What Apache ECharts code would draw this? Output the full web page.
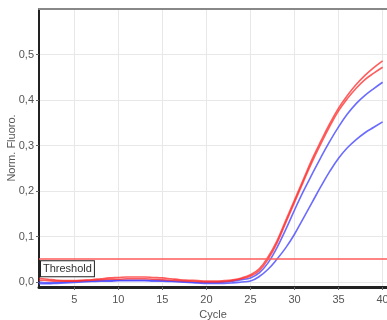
<!DOCTYPE html>
<html><head><meta charset="utf-8">
<script src="https://cdn.jsdelivr.net/npm/echarts@6/dist/echarts.min.js"></script>
<style>html,body{margin:0;padding:0;background:#fff}#c{width:387px;height:320px}</style>
</head><body><div id="c"></div>
<script>
const cycles = [1,2,3,4,5,6,7,8,9,10,11,12,13,14,15,16,17,18,19,20,21,22,23,24,25,26,27,28,29,30,31,32,33,34,35,36,37,38,39,40];
const red1 = [0.008,0.006,0.004,0.003,0.003,0.004,0.005,0.007,0.009,0.010,0.011,0.011,0.011,0.010,0.009,0.007,0.005,0.004,0.003,0.002,0.002,0.003,0.005,0.009,0.016,0.029,0.055,0.090,0.135,0.180,0.225,0.270,0.310,0.348,0.382,0.410,0.434,0.454,0.471,0.486];
const red2 = [0.004,0.003,0.002,0.002,0.002,0.003,0.004,0.005,0.006,0.006,0.007,0.007,0.007,0.006,0.005,0.004,0.003,0.002,0.001,0.000,0.000,0.001,0.003,0.007,0.013,0.025,0.050,0.085,0.130,0.175,0.220,0.264,0.304,0.342,0.376,0.403,0.426,0.445,0.459,0.472];
const blue1 = [0.000,-0.002,-0.001,0.000,0.001,0.002,0.002,0.003,0.003,0.004,0.004,0.004,0.004,0.004,0.003,0.002,0.001,0.000,-0.001,-0.001,-0.001,0.000,0.002,0.005,0.009,0.020,0.042,0.075,0.115,0.158,0.199,0.237,0.274,0.309,0.341,0.369,0.392,0.410,0.425,0.439];
const blue2 = [-0.004,-0.004,-0.003,-0.002,-0.001,0.000,0.001,0.002,0.002,0.003,0.003,0.003,0.003,0.002,0.002,0.001,0.000,-0.001,-0.002,-0.003,-0.003,-0.003,-0.002,0.000,0.002,0.012,0.028,0.050,0.075,0.105,0.140,0.175,0.210,0.243,0.272,0.295,0.313,0.328,0.340,0.352];
const threshold = 0.05;
const xTicks = [5,10,15,20,25,30,35,40];
const yTicks = [0,0.1,0.2,0.3,0.4,0.5];

const pair = arr => cycles.map((c,i)=>[c,arr[i]]);
const chart = echarts.init(document.getElementById('c'));
const font = 'Liberation Sans, Arial, sans-serif';
function mk(name, arr, color){
  return {type:'line', name, data:pair(arr), showSymbol:false, smooth:0.4,
    lineStyle:{color, width:1.6}, itemStyle:{color}, z:3, silent:true};
}
const series = [
  mk('b2', blue2, 'rgba(70,70,255,0.8)'),
  mk('b1', blue1, 'rgba(70,70,255,0.8)'),
  mk('r2', red2, 'rgba(255,40,40,0.75)'),
  mk('r1', red1, 'rgba(255,40,40,0.75)')
];
series.push({type:'line', data:[], silent:true,
  markLine:{silent:true, symbol:'none', animation:false,
    lineStyle:{color:'#ff5c5c', width:1.5, type:'solid'},
    label:{show:true, position:'insideStartBottom', formatter:'Threshold', color:'#333',
      fontFamily:font, fontSize:11, backgroundColor:'#fff', borderColor:'#222', borderWidth:1,
      padding:[2,2,2,2], distance:[2,2]},
    data:[{yAxis:threshold}]}});
chart.setOption({
  animation:false,
  grid:{left:39, top:9, right:0, bottom:33, outerBoundsMode:'none', containLabel:false},
  xAxis:[{type:'value', min:1, max:40.5, position:'bottom',
    name:'Cycle', nameLocation:'middle', nameGap:21,
    nameTextStyle:{color:'#555', fontFamily:font, fontSize:11},
    axisLine:{show:true, onZero:false, lineStyle:{color:'#222', width:3}},
    axisTick:{show:true, length:3, customValues:xTicks, lineStyle:{color:'#666'}},
    axisLabel:{customValues:xTicks, color:'#555', fontFamily:font, fontSize:11, margin:7},
    splitLine:{show:true, lineStyle:{color:'#e8e8e8', width:1}}},
   {type:'value', min:1, max:40.5, position:'top',
    axisLine:{show:true, onZero:false, lineStyle:{color:'#888', width:2}},
    axisTick:{show:false}, axisLabel:{show:false}, splitLine:{show:false}}],
  yAxis:{type:'value', min:-0.011, max:0.6,
    name:'Norm. Fluoro.', nameLocation:'middle', nameGap:22, nameMoveOverlap:false,
    nameTextStyle:{color:'#555', fontFamily:font, fontSize:11},
    axisLine:{show:true, onZero:false, lineStyle:{color:'#222', width:2}},
    axisTick:{show:true, length:3, customValues:yTicks, lineStyle:{color:'#666'}},
    axisLabel:{customValues:yTicks, color:'#555', fontFamily:font, fontSize:11, margin:5,
      formatter:v=>v.toFixed(1).replace('.',',')},
    splitLine:{show:true, lineStyle:{color:'#e8e8e8', width:1}}},
  series
});
</script></body></html>
